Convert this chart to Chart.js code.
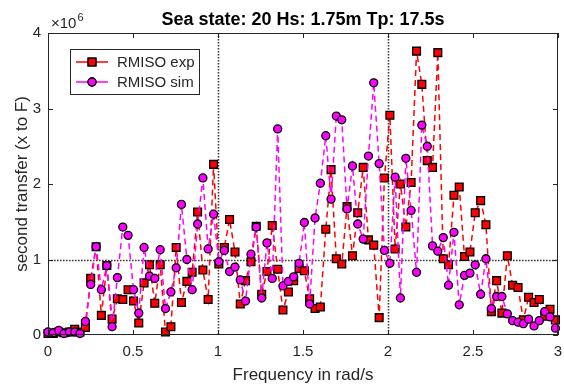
<!DOCTYPE html>
<html><head><meta charset="utf-8">
<script src="https://cdn.jsdelivr.net/npm/chart.js@4.4.0/dist/chart.umd.min.js"></script>
<style>html,body{margin:0;padding:0;background:#fff;}canvas{display:block;}</style>
</head><body>
<canvas id="c" width="564" height="392"></canvas>
<script>
// Frequency (rad/s)
const frequency = [0,0.031,0.063,0.094,0.126,0.157,0.188,0.220,0.251,0.283,
0.314,0.346,0.377,0.408,0.440,0.471,0.503,0.534,0.565,0.597,
0.628,0.660,0.691,0.723,0.754,0.785,0.817,0.848,0.880,0.911,
0.942,0.974,1.005,1.037,1.068,1.100,1.131,1.162,1.194,1.225,
1.257,1.288,1.319,1.351,1.382,1.414,1.445,1.477,1.508,1.539,
1.571,1.602,1.634,1.665,1.696,1.728,1.759,1.791,1.822,1.854,
1.885,1.916,1.948,1.979,2.011,2.042,2.073,2.105,2.136,2.168,
2.199,2.231,2.262,2.293,2.325,2.356,2.388,2.419,2.450,2.482,
2.513,2.545,2.576,2.608,2.639,2.670,2.702,2.733,2.765,2.796,
2.827,2.859,2.890,2.922,2.953,2.985];
// second transfer, in units of 10^6
const rmisoExp = [0.02,0.02,0.04,0.03,0.04,0.075,0.04,0.10,0.75,1.17,
0.26,0.92,0.21,0.48,0.47,0.60,0.45,0.16,0.69,0.93,
0.42,0.93,0.04,0.11,1.16,0.43,0.71,0.83,1.63,0.86,
0.47,2.26,0.94,1.16,1.53,1.10,0.41,0.72,0.97,1.44,
0.54,0.84,1.45,0.87,0.33,0.57,0.72,0.88,0.85,0.48,
0.35,0.37,1.40,2.19,1.01,0.94,1.70,1.05,1.62,2.22,
1.26,1.19,0.23,2.08,2.91,1.14,2.00,1.43,2.02,3.76,
3.32,2.31,2.22,3.74,1.01,0.93,1.85,1.96,1.04,1.10,
1.62,1.78,1.46,0.31,0.72,0.29,1.05,0.66,0.63,0.20,
0.50,0.43,0.47,0.25,0.34,0.20];
const rmisoSim = [0.04,0.03,0.06,0.02,0.04,0.04,0.02,0.18,0.67,1.17,
0.60,0.92,0.11,0.76,1.43,1.32,0.60,0.29,1.16,0.78,
0.75,1.13,0.35,0.57,0.89,1.73,1.00,0.60,1.47,2.08,
1.14,1.60,0.97,1.12,0.84,0.90,0.73,0.45,1.07,1.43,
0.49,1.22,0.75,2.73,0.65,0.71,0.77,0.95,1.49,0.41,
1.55,2.01,2.64,1.80,2.90,2.85,1.67,2.24,1.47,1.27,
2.37,3.34,2.27,1.12,0.95,2.09,0.49,2.34,1.65,0.83,
2.78,2.50,1.18,1.11,1.29,0.66,1.36,0.40,0.79,0.82,
0.93,0.54,1.01,0.35,0.51,0.51,0.28,0.19,0.17,0.15,
0.21,0.12,0.19,0.31,0.24,0.09];
const seriesNames = ['RMISO exp', 'RMISO sim'];
const xTickValues = [0, 0.5, 1, 1.5, 2, 2.5, 3];
const yTickValues = [0, 1, 2, 3, 4];
const refLinesX = [1, 2];
const refLinesY = [1];
const chartTitle = 'Sea state: 20 Hs: 1.75m Tp: 17.5s';
const xLabel = 'Frequency in rad/s';
const yLabel = 'second transfer (x to F)';
const yExponent = '6';

const FONT = '"Liberation Sans", Arial, Helvetica, sans-serif';
const AX = '#262626';
const RED = '#ff0000', MAG = '#ff00ff';

const toPts = ys => frequency.map((f, i) => ({x: f, y: ys[i]}));

const deco = {
  id: 'deco',
  beforeDatasetsDraw(chart) {
    const {ctx, chartArea: a, scales: {x, y}} = chart;
    ctx.save();
    ctx.strokeStyle = '#3a3a3a';
    ctx.lineWidth = 1.6;
    ctx.setLineDash([1.6, 1.4]);
    refLinesX.forEach(v => {
      const px = Math.round(x.getPixelForValue(v)) + 0.5;
      ctx.beginPath(); ctx.moveTo(px, a.top); ctx.lineTo(px, a.bottom); ctx.stroke();
    });
    refLinesY.forEach(v => {
      const py = Math.round(y.getPixelForValue(v)) + 0.5;
      ctx.beginPath(); ctx.moveTo(a.left, py); ctx.lineTo(a.right, py); ctx.stroke();
    });
    ctx.restore();
  },
  afterDraw(chart) {
    const {ctx, chartArea: a, scales: {x, y}} = chart;
    ctx.save();
    ctx.strokeStyle = AX; ctx.lineWidth = 1; ctx.setLineDash([]);
    ctx.strokeRect(Math.round(a.left) + 0.5, Math.round(a.top) + 0.5,
      Math.round(a.right - a.left) - 1, Math.round(a.bottom - a.top) - 1);
    const tl = 5;
    ctx.beginPath();
    xTickValues.forEach(v => {
      const px = Math.round(x.getPixelForValue(v)) + 0.5;
      ctx.moveTo(px, a.bottom); ctx.lineTo(px, a.bottom - tl);
      ctx.moveTo(px, a.top); ctx.lineTo(px, a.top + tl);
    });
    yTickValues.forEach(v => {
      const py = Math.round(y.getPixelForValue(v)) + 0.5;
      ctx.moveTo(a.left, py); ctx.lineTo(a.left + tl, py);
      ctx.moveTo(a.right, py); ctx.lineTo(a.right - tl, py);
    });
    ctx.stroke();
    ctx.fillStyle = AX;
    ctx.textBaseline = 'alphabetic'; ctx.textAlign = 'left';
    ctx.font = '15px ' + FONT;
    ctx.fillText('\u00d710', a.left + 3, a.top - 5);
    const w = ctx.measureText('\u00d710').width;
    ctx.font = '11px ' + FONT;
    ctx.fillText(yExponent, a.left + 3 + w + 1, a.top - 12);
    ctx.font = 'bold 18px ' + FONT;
    ctx.textAlign = 'center'; ctx.textBaseline = 'middle';
    ctx.fillStyle = '#000';
    ctx.fillText(chartTitle, (a.left + a.right) / 2, 20);
    const lx = 70.5, ly = 49.5, lw = 129, lh = 45;
    ctx.fillStyle = '#fff'; ctx.fillRect(lx, ly, lw, lh);
    ctx.strokeStyle = AX; ctx.lineWidth = 1; ctx.strokeRect(lx, ly, lw, lh);
    const entries = [
      {name: seriesNames[0], color: RED, style: 'rect', r: 5.5, yc: 62},
      {name: seriesNames[1], color: MAG, style: 'circle', r: 4, yc: 82}
    ];
    entries.forEach(e => {
      ctx.strokeStyle = e.color; ctx.lineWidth = 1.5; ctx.setLineDash([]);
      ctx.beginPath(); ctx.moveTo(76, e.yc); ctx.lineTo(108, e.yc); ctx.stroke();
      ctx.fillStyle = e.color; ctx.strokeStyle = '#000'; ctx.lineWidth = 1.3;
      Chart.helpers.drawPoint(ctx, {pointStyle: e.style, radius: e.r, borderWidth: 1.3, rotation: 0}, 92, e.yc);
      ctx.fill(); ctx.stroke();
      ctx.fillStyle = AX; ctx.font = '15px ' + FONT;
      ctx.textAlign = 'left'; ctx.textBaseline = 'middle';
      ctx.fillText(e.name, 117, e.yc + 1);
    });
    ctx.restore();
  }
};

new Chart(document.getElementById('c'), {
  type: 'line',
  data: {
    datasets: [
      {label: seriesNames[0], data: toPts(rmisoExp), order: 2,
       borderColor: RED, backgroundColor: RED, borderWidth: 1.5, borderDash: [6, 4],
       pointStyle: 'rect', pointRadius: 5.5, pointBackgroundColor: RED,
       pointBorderColor: '#000', pointBorderWidth: 1.3, tension: 0, clip: false},
      {label: seriesNames[1], data: toPts(rmisoSim), order: 1,
       borderColor: MAG, backgroundColor: MAG, borderWidth: 1.5, borderDash: [6, 4],
       pointStyle: 'circle', pointRadius: 4, pointBackgroundColor: MAG,
       pointBorderColor: '#000', pointBorderWidth: 1.3, tension: 0, clip: false}
    ]
  },
  options: {
    responsive: false, animation: false, devicePixelRatio: 1,
    layout: {autoPadding: false, padding: {top: 33, right: 6, left: 0, bottom: 0}},
    plugins: {legend: {display: false}, tooltip: {enabled: false}, title: {display: false}},
    scales: {
      x: {
        type: 'linear', min: 0, max: 3,
        afterFit: s => { s.height = 57; s.paddingLeft = 0; s.paddingRight = 0; },
        afterBuildTicks: s => { s.ticks = xTickValues.map(v => ({value: v})); },
        grid: {display: true, drawOnChartArea: false, drawTicks: false, color: 'rgba(0,0,0,0)'},
        border: {display: false},
        ticks: {color: AX, font: {family: FONT, size: 15}, padding: 8, maxRotation: 0,
                callback: v => String(v)},
        title: {display: true, text: xLabel, color: AX, font: {family: FONT, size: 17},
                padding: {top: 0, bottom: 6}}
      },
      y: {
        type: 'linear', min: 0, max: 4,
        afterFit: s => { s.width = 48; s.paddingTop = 0; s.paddingBottom = 0; },
        afterBuildTicks: s => { s.ticks = yTickValues.map(v => ({value: v})); },
        grid: {display: true, drawOnChartArea: false, drawTicks: false, color: 'rgba(0,0,0,0)'},
        border: {display: false},
        ticks: {color: AX, font: {family: FONT, size: 15}, padding: 7, callback: v => String(v)},
        title: {display: true, text: yLabel, color: AX, font: {family: FONT, size: 17},
                padding: {top: 12, bottom: 0}}
      }
    }
  },
  plugins: [deco]
});
</script>
</body></html>
